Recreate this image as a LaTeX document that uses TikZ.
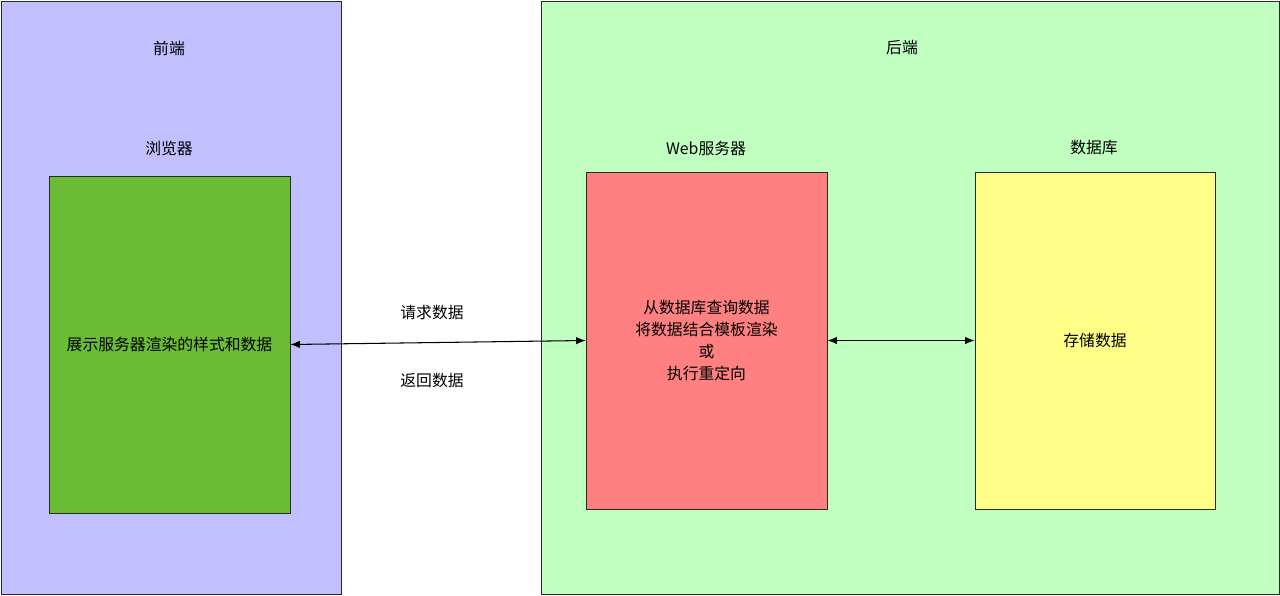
\documentclass[tikz,border=0pt]{standalone}
\usepackage{fontspec}
\setmainfont{Noto Sans CJK SC}
\usetikzlibrary{arrows.meta}
\definecolor{frontend}{RGB}{192,192,255}
\definecolor{backend}{RGB}{192,255,192}
\definecolor{browsergreen}{RGB}{106,188,52}
\definecolor{serverred}{RGB}{255,128,128}
\definecolor{dbyellow}{RGB}{255,255,136}
\definecolor{rand}{RGB}{40,40,40}

\begin{document}
\begin{tikzpicture}[x=0.02cm, y=-0.02cm,
    font=\fontsize{9}{12.5}\selectfont,
    panel/.style={draw=rand, line width=0.5pt, minimum height=11.86cm},
    box/.style={draw=rand, line width=0.5pt, minimum width=4.82cm, minimum height=6.74cm, align=center},
    link/.style={line width=0.6pt, {Latex[length=1.9mm,width=1.5mm]}-{Latex[length=1.9mm,width=1.5mm]}}]

    \useasboundingbox[fill=white] (0,0) rectangle (1280,595);

    % Bereiche
    \node[panel, fill=frontend, minimum width=6.8cm] (vorne) at (171,297.5) {};
    \node[panel, fill=backend, minimum width=14.76cm] (hinten) at (910,297.5) {};
    \node (vornetitel) at (169,48) {前端};
    \node (hintentitel) at (902,48) {后端};

    % Kaesten
    \node[box, fill=browsergreen] (browser) at (169.5,344.5) {展示服务器渲染的样式和数据};
    \node[box, fill=serverred] (server) at (706.5,340.5) {从数据库查询数据\\将数据结合模板渲染\\或\\执行重定向};
    \node[box, fill=dbyellow, minimum width=4.8cm] (db) at (1095,340.5) {存储数据};
    \node (browsertitel) at (169,148) {浏览器};
    \node (servertitel) at (706,148) {Web服务器};
    \node (dbtitel) at (1094,148) {数据库};

    % Pfeile
    \draw[link] (browser.east) -- (server.west);
    \draw[link] (server.east) -- (db.west);
    \node (anfrage) at (432,313) {请求数据};
    \node (antwort) at (432,381) {返回数据};

\end{tikzpicture}
\end{document}
